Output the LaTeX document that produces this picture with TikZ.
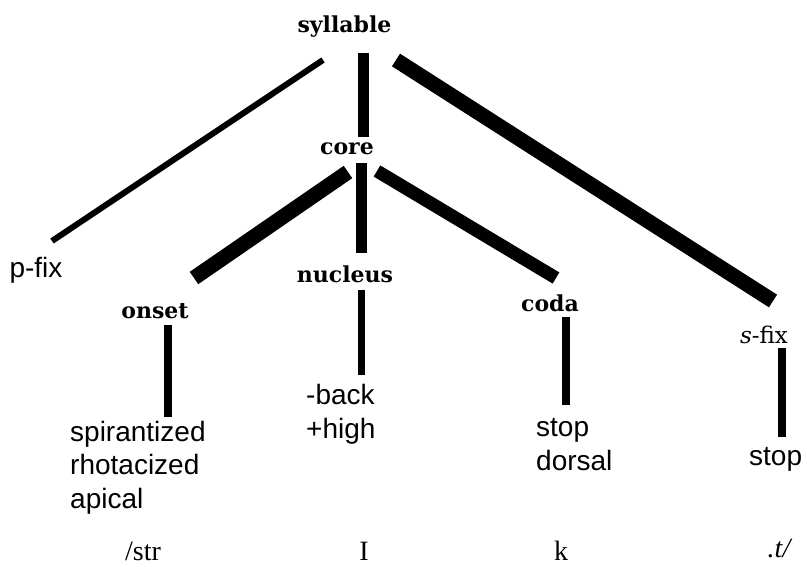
\documentclass[tikz,border=0pt]{standalone}
\usepackage{fontspec}
\setmainfont{Liberation Serif}
\newfontfamily\lblfont{DejaVu Serif}
\newfontfamily\featfont{Liberation Sans}
\begin{document}
\begin{tikzpicture}[x=1pt,y=-1pt,
  cat/.style={inner sep=0pt,anchor=base,font=\lblfont\bfseries\fontsize{22}{26}\selectfont},
  catl/.style={inner sep=0pt,anchor=base,font=\lblfont\fontsize{23}{27}\selectfont},
  feat/.style={inner sep=0pt,anchor=base west,align=left,font=\featfont\fontsize{28}{33.5}\selectfont},
  seg/.style={inner sep=0pt,anchor=base,font=\fontsize{28}{32}\selectfont},
  br/.style={line width=#1,line cap=butt}]
\useasboundingbox (0,0) rectangle (807,567);
% category nodes
\node[cat] (syl) at (344.5,33) {syllable};
\node[cat] (core) at (347,155) {core};
\node[feat,anchor=base] (pfix) at (36,277) {p-fix};
\node[cat] (onset) at (155,318) {onset};
\node[cat] (nuc) at (345,283) {nucleus};
\node[cat] (coda) at (550,312) {coda};
\node[catl] (sfix) at (764,343) {\itshape s\upshape-fix};
% feature nodes (base = last line)
\node[feat] (fon) at (70,508) {spirantized\\rhotacized\\apical};
\node[feat] (fnuc) at (306,438) {-back\\+high};
\node[feat] (fcoda) at (536,470) {stop\\dorsal};
\node[feat] (fsfix) at (749,465) {stop};
% segments
\node[seg] (s1) at (143,560) {/str};
\node[seg] (s2) at (364,560) {I};
\node[seg] (s3) at (561,560) {k};
\node[seg] (s4) at (779,557) {\itshape .t/};
% connectors
\draw[br=6pt] ([shift={(-21.5,27)}]syl.base) -- ([shift={(16,-36)}]pfix.base);
\draw[br=11pt] ([shift={(18.5,20)}]syl.base) -- ([shift={(16,-18)}]core.base);
\draw[br=15pt] ([shift={(51.5,27)}]syl.base) -- ([shift={(9,-42)}]sfix.base);
\draw[br=15pt] ([shift={(1,17)}]core.base) -- ([shift={(39,-40)}]onset.base);
\draw[br=11pt] ([shift={(14,8)}]core.base) -- ([shift={(16,-30)}]nuc.base);
\draw[br=13pt] ([shift={(30,16)}]core.base) -- ([shift={(6,-34)}]coda.base);
\draw[br=8pt] ([shift={(13,7)}]onset.base) -- ([shift={(98,-91)}]fon.base west);
\draw[br=7pt] ([shift={(16,7)}]nuc.base) -- ([shift={(55,-63)}]fnuc.base west);
\draw[br=8pt] ([shift={(16,5)}]coda.base) -- ([shift={(30,-65)}]fcoda.base west);
\draw[br=8pt] ([shift={(18,5)}]sfix.base) -- ([shift={(33,-28)}]fsfix.base west);
\end{tikzpicture}
\end{document}
